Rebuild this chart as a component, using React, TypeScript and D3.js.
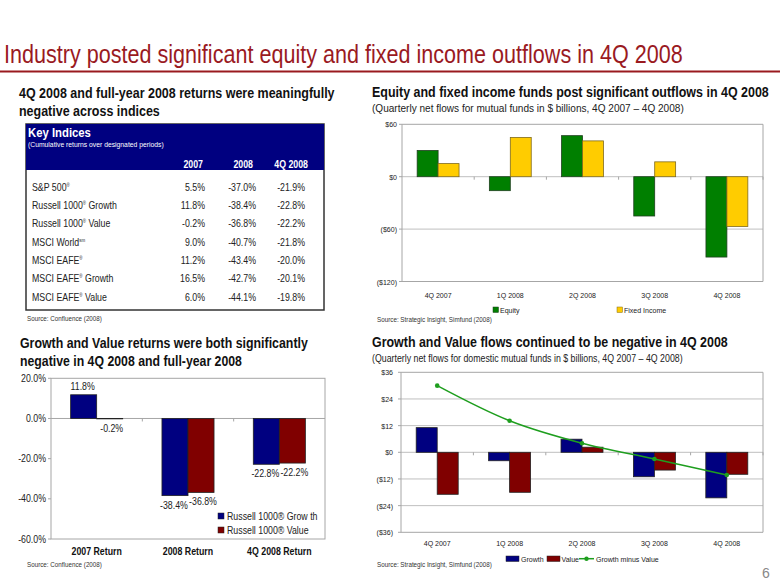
import React, { useLayoutEffect, useRef, useState } from "react";
import * as d3 from "d3";

// ---------- Data ----------
const indexNames = [
  ["S&P 500", "®", ""],
  ["Russell 1000", "®", " Growth"],
  ["Russell 1000", "®", " Value"],
  ["MSCI World", "sm", ""],
  ["MSCI EAFE", "®", ""],
  ["MSCI EAFE", "®", " Growth"],
  ["MSCI EAFE", "®", " Value"],
];
const tableColumns = ["2007", "2008", "4Q 2008"];
const returns2007 = ["5.5%", "11.8%", "-0.2%", "9.0%", "11.2%", "16.5%", "6.0%"];
const returns2008 = ["-37.0%", "-38.4%", "-36.8%", "-40.7%", "-43.4%", "-42.7%", "-44.1%"];
const returns4Q08 = ["-21.9%", "-22.8%", "-22.2%", "-21.8%", "-20.0%", "-20.1%", "-19.8%"];

const flowQuarters = ["4Q 2007", "1Q 2008", "2Q 2008", "3Q 2008", "4Q 2008"];
const equityFlows = [30, -16, 47, -45, -92];
const fixedIncomeFlows = [15, 45, 41, 17, -57];
const flowTicks = [-120, -60, 0, 60];

const growthFlows = [11.1, -3.8, 5.9, -11.0, -20.5];
const valueFlows = [-18.9, -18.0, 2.3, -8.0, -9.9];
const growthMinusValue = [30.0, 14.2, 4.1, -3.0, -10.2];
const styleTicks = [-36, -24, -12, 0, 12, 24, 36];

const returnCategories = ["2007 Return", "2008 Return", "4Q 2008 Return"];
const growthReturns = [11.8, -38.4, -22.8];
const valueReturns = [-0.2, -36.8, -22.2];
const returnTicks = [-60, -40, -20, 0, 20];

// ---------- Styles ----------
const NARROW = "'Liberation Sans Narrow', 'Arial Narrow', 'Liberation Sans', Arial, sans-serif";
const SANS = "'Liberation Sans', Arial, Helvetica, sans-serif";
const TITLE_RED = "#9A1A1F";
const NAVY = "#000080";
const MAROON = "#800000";
const GREEN = "#007F00";
const GOLD = "#FFCC00";
const FRAME = "#A6A6A6";
const GRID = "#BFBFBF";
const LINE_GREEN = "#1E9E1E";

const money = (v: number) => (v < 0 ? `($${-v})` : `$${v}`);

type TProps = {
  x: number;
  y: number;
  size: number;
  anchor?: "start" | "middle" | "end";
  bold?: boolean;
  fill?: string;
  sx?: number;
  family?: string;
  children: React.ReactNode;
};

// Horizontally condensed text (the slide's fonts are squeezed)
function T({ x, y, size, anchor = "start", bold, fill = "#222", sx = 0.88, family = SANS, children }: TProps) {
  return (
    <text
      transform={`translate(${x},${y}) scale(${sx},1)`}
      fontFamily={family}
      fontSize={size}
      fontWeight={bold ? "bold" : "normal"}
      fill={fill}
      textAnchor={anchor}
    >
      {children}
    </text>
  );
}

// Text scaled horizontally to a measured target width
function Fit(props: { x: number; y: number; w: number; size: number; bold?: boolean; fill?: string; family?: string; children: React.ReactNode }) {
  const ref = useRef<SVGTextElement>(null);
  const [sx, setSx] = useState(1);
  useLayoutEffect(() => {
    if (ref.current) {
      const n = ref.current.getComputedTextLength();
      if (n > 0) setSx(props.w / n);
    }
  }, [props.w]);
  return (
    <text
      ref={ref}
      transform={`translate(${props.x},${props.y}) scale(${sx},1)`}
      fontFamily={props.family ?? NARROW}
      fontSize={props.size}
      fontWeight={props.bold ? "bold" : "normal"}
      fill={props.fill ?? "#111"}
    >
      {props.children}
    </text>
  );
}

// ---------- Table ----------
function KeyTable() {
  const x0 = 26, x1 = 324, y0 = 124, y1 = 310, hy = 170;
  const colRight = [205, 256, 305];
  const headRight = [203, 253, 308];
  const rowY = d3.range(indexNames.length).map((i) => 190.5 + i * 18.35);
  const cols = [returns2007, returns2008, returns4Q08];
  return (
    <g>
      <rect x={x0} y={y0} width={x1 - x0} height={y1 - y0} fill="#fff" stroke="#333" strokeWidth={1.5} />
      <rect x={x0} y={y0} width={x1 - x0} height={hy - y0} fill={NAVY} />
      <Fit x={28} y={137} w={63} size={12} bold fill="#fff" family={SANS}>Key Indices</Fit>
      <Fit x={28} y={147} w={136} size={8} fill="#fff" family={SANS}>(Cumulative returns over designated periods)</Fit>
      {tableColumns.map((c, i) => (
        <T key={c} x={headRight[i]} y={168} size={10} bold fill="#fff" anchor="end">{c}</T>
      ))}
      {indexNames.map((n, i) => (
        <g key={i}>
          <T x={32} y={rowY[i]} size={10}>
            {n[0]}
            <tspan fontSize={5} dy={-4}>{n[1]}</tspan>
            <tspan dy={4}>{n[2]}</tspan>
          </T>
          {cols.map((col, j) => (
            <T key={j} x={colRight[j]} y={rowY[i]} size={10} anchor="end">{col[i]}</T>
          ))}
        </g>
      ))}
      <Fit x={27} y={321} w={75} size={7.5} fill="#333" family={SANS}>Source: Confluence (2008)</Fit>
    </g>
  );
}

// ---------- Equity / Fixed Income ----------
function FlowsChart() {
  const left = 402, right = 763;
  const y = d3.scaleLinear().domain([-120, 60]).range([281.5, 124.3]);
  const x = d3.scaleBand().domain(flowQuarters).range([left, right]).padding(0);
  const bw = x.bandwidth() * 0.29;
  const zero = y(0);
  const bar = (v: number) => ({ y: Math.min(y(v), zero), h: Math.abs(y(v) - zero) });
  return (
    <g>
      {flowTicks.map((t) => (
        <g key={t}>
          <line x1={left} x2={right} y1={y(t)} y2={y(t)} stroke={t === 60 || t === -120 ? FRAME : GRID} strokeWidth={1} />
          <line x1={left - 3} x2={left} y1={y(t)} y2={y(t)} stroke={FRAME} />
          <T x={397} y={y(t) + 3} size={8} anchor="end">{money(t)}</T>
        </g>
      ))}
      <line x1={left} x2={left} y1={y(60)} y2={y(-120)} stroke={FRAME} />
      <line x1={right} x2={right} y1={y(60)} y2={y(-120)} stroke={FRAME} />
      {flowQuarters.map((q, i) => {
        const cx = (x(q) as number) + x.bandwidth() / 2;
        const e = bar(equityFlows[i]);
        const f = bar(fixedIncomeFlows[i]);
        return (
          <g key={q}>
            <line x1={(x(q) as number) + x.bandwidth()} x2={(x(q) as number) + x.bandwidth()} y1={zero} y2={zero + 3} stroke={FRAME} />
            <rect x={cx - bw} y={e.y} width={bw} height={e.h} fill={GREEN} stroke="#1F3F1F" strokeWidth={0.8} />
            <rect x={cx} y={f.y} width={bw} height={f.h} fill={GOLD} stroke="#7F6A1F" strokeWidth={0.8} />
            <T x={cx} y={298} size={8} anchor="middle">{q}</T>
          </g>
        );
      })}
      <rect x={493} y={307} width={5.5} height={5.5} fill={GREEN} stroke="#1F3F1F" strokeWidth={0.5} />
      <T x={500} y={313} size={8}>Equity</T>
      <rect x={617} y={307} width={5.5} height={5.5} fill={GOLD} stroke="#7F6A1F" strokeWidth={0.5} />
      <T x={624} y={313} size={8}>Fixed Income</T>
      <Fit x={377} y={322} w={115} size={7.5} fill="#333" family={SANS}>Source: Strategic Insight, Simfund (2008)</Fit>
    </g>
  );
}

// ---------- Growth / Value flows ----------
function StyleFlowsChart() {
  const left = 401, right = 763;
  const y = d3.scaleLinear().domain([-36, 36]).range([532.3, 372.3]);
  const x = d3.scaleBand().domain(flowQuarters).range([left, right]).padding(0);
  const bw = x.bandwidth() * 0.29;
  const zero = y(0);
  const bar = (v: number) => ({ y: Math.min(y(v), zero), h: Math.abs(y(v) - zero) });
  const cxOf = (q: string) => (x(q) as number) + x.bandwidth() / 2;
  const line = d3
    .line<number>()
    .x((_, i) => cxOf(flowQuarters[i]))
    .y((v) => y(v))
    .curve(d3.curveCatmullRom.alpha(0.5));
  return (
    <g>
      {styleTicks.map((t) => (
        <g key={t}>
          <line x1={left} x2={right} y1={y(t)} y2={y(t)} stroke={t === 36 || t === -36 ? FRAME : GRID} strokeWidth={1} />
          <line x1={left - 3} x2={left} y1={y(t)} y2={y(t)} stroke={FRAME} />
          <T x={393} y={y(t) + 3} size={8} anchor="end">{money(t)}</T>
        </g>
      ))}
      <line x1={left} x2={left} y1={y(36)} y2={y(-36)} stroke={FRAME} />
      <line x1={right} x2={right} y1={y(36)} y2={y(-36)} stroke={FRAME} />
      {flowQuarters.map((q, i) => {
        const cx = cxOf(q);
        const g = bar(growthFlows[i]);
        const v = bar(valueFlows[i]);
        return (
          <g key={q}>
            <line x1={(x(q) as number) + x.bandwidth()} x2={(x(q) as number) + x.bandwidth()} y1={zero} y2={zero + 3} stroke={FRAME} />
            <rect x={cx - bw} y={g.y} width={bw} height={g.h} fill={NAVY} stroke="#222" strokeWidth={0.8} />
            <rect x={cx} y={v.y} width={bw} height={v.h} fill={MAROON} stroke="#222" strokeWidth={0.8} />
            <T x={cx} y={546} size={8} anchor="middle">{q}</T>
          </g>
        );
      })}
      <path d={line(growthMinusValue) ?? ""} fill="none" stroke={LINE_GREEN} strokeWidth={1.5} />
      {growthMinusValue.map((v, i) => (
        <circle key={i} cx={cxOf(flowQuarters[i])} cy={y(v)} r={2.3} fill={LINE_GREEN} />
      ))}
      <rect x={506} y={556} width={13} height={5.5} fill={NAVY} stroke="#222" strokeWidth={0.5} />
      <T x={521} y={561.5} size={8}>Growth</T>
      <rect x={547} y={556} width={13} height={5.5} fill={MAROON} stroke="#222" strokeWidth={0.5} />
      <T x={561.5} y={561.5} size={8}>Value</T>
      <line x1={579} x2={594} y1={558.7} y2={558.7} stroke={LINE_GREEN} strokeWidth={1.5} />
      <circle cx={586.5} cy={558.7} r={2.2} fill={LINE_GREEN} />
      <T x={596} y={561.5} size={8}>Growth minus Value</T>
      <Fit x={377} y={567} w={115} size={7.5} fill="#333" family={SANS}>Source: Strategic Insight, Simfund (2008)</Fit>
    </g>
  );
}

// ---------- Returns ----------
function ReturnsChart() {
  const left = 51, right = 325;
  const y = d3.scaleLinear().domain([-60, 20]).range([539, 378.3]);
  const x = d3.scaleBand().domain(returnCategories).range([left, right]).padding(0);
  const bw = x.bandwidth() * 0.285;
  const zero = y(0);
  const bar = (v: number) => ({ y: Math.min(y(v), zero), h: Math.abs(y(v) - zero) });
  const labelY = (v: number) => (v >= 0 ? y(v) - 5 : y(v) + 13);
  return (
    <g>
      <rect x={left} y={y(20)} width={right - left} height={y(-60) - y(20)} fill="none" stroke={FRAME} />
      <line x1={left} x2={right} y1={zero} y2={zero} stroke={FRAME} />
      {returnTicks.map((t) => (
        <g key={t}>
          <line x1={left - 3} x2={left} y1={y(t)} y2={y(t)} stroke={FRAME} />
          <T x={46} y={y(t) + 3.5} size={10} anchor="end">{`${t.toFixed(1)}%`}</T>
        </g>
      ))}
      {returnCategories.map((c, i) => {
        const cx = (x(c) as number) + x.bandwidth() / 2;
        const g = bar(growthReturns[i]);
        const v = bar(valueReturns[i]);
        return (
          <g key={c}>
            {i < returnCategories.length - 1 && (
              <line x1={(x(c) as number) + x.bandwidth()} x2={(x(c) as number) + x.bandwidth()} y1={zero} y2={zero + 3} stroke={FRAME} />
            )}
            <rect x={cx - bw} y={g.y} width={bw} height={g.h} fill={NAVY} stroke="#222" strokeWidth={0.8} />
            <rect x={cx} y={v.y} width={bw} height={v.h} fill={MAROON} stroke="#222" strokeWidth={0.8} />
            <T x={cx - bw / 2 - 1} y={labelY(growthReturns[i])} size={10} anchor="middle">{`${growthReturns[i].toFixed(1)}%`}</T>
            <T x={cx + bw / 2 + 2} y={labelY(valueReturns[i])} size={10} anchor="middle">{`${valueReturns[i].toFixed(1)}%`}</T>
            <T x={cx} y={554.5} size={10} bold fill="#111" anchor="middle">{c}</T>
          </g>
        );
      })}
      <rect x={218} y={513} width={6} height={6} fill={NAVY} stroke="#222" strokeWidth={0.5} />
      <T x={227} y={519.5} size={10}>Russell 1000® Grow th</T>
      <rect x={218} y={527} width={6} height={6} fill={MAROON} stroke="#222" strokeWidth={0.5} />
      <T x={227} y={533.5} size={10}>Russell 1000® Value</T>
      <Fit x={27} y={567} w={75} size={7.5} fill="#333" family={SANS}>Source: Confluence (2008)</Fit>
    </g>
  );
}

export default function App() {
  return (
    <div style={{ position: "absolute", left: 0, top: 0, width: 780, height: 585, background: "#fff" }}>
      <svg width={780} height={585} style={{ display: "block" }}>
        <rect x={0} y={0} width={780} height={585} fill="#fff" />
        <Fit x={4} y={62.5} w={679} size={25} fill={TITLE_RED}>Industry posted significant equity and fixed income outflows in 4Q 2008</Fit>
        <line x1={0} x2={780} y1={71.5} y2={71.5} stroke={TITLE_RED} strokeWidth={1.8} />

        <Fit x={19} y={98} w={316} size={14.5} bold>4Q 2008 and full-year 2008 returns were meaningfully</Fit>
        <Fit x={19} y={116} w={141} size={14.5} bold>negative across indices</Fit>

        <Fit x={372} y={97} w={397} size={14.5} bold>Equity and fixed income funds post significant outflows in 4Q 2008</Fit>
        <Fit x={372} y={112} w={312} size={11} fill="#222">(Quarterly net flows for mutual funds in $ billions, 4Q 2007 – 4Q 2008)</Fit>

        <Fit x={20} y={348} w={288} size={14.5} bold>Growth and Value returns were both significantly</Fit>
        <Fit x={20} y={366} w={222} size={14.5} bold>negative in 4Q 2008 and full-year 2008</Fit>

        <Fit x={372} y={346.5} w={356} size={14.5} bold>Growth and Value flows continued to be negative in 4Q 2008</Fit>
        <Fit x={372} y={361.5} w={311} size={11} fill="#222">(Quarterly net flows for domestic mutual funds in $ billions, 4Q 2007 – 4Q 2008)</Fit>

        <KeyTable />
        <FlowsChart />
        <ReturnsChart />
        <StyleFlowsChart />

        <text x={762} y={578} fontFamily={SANS} fontSize={14} fill="#888">6</text>
      </svg>
    </div>
  );
}
